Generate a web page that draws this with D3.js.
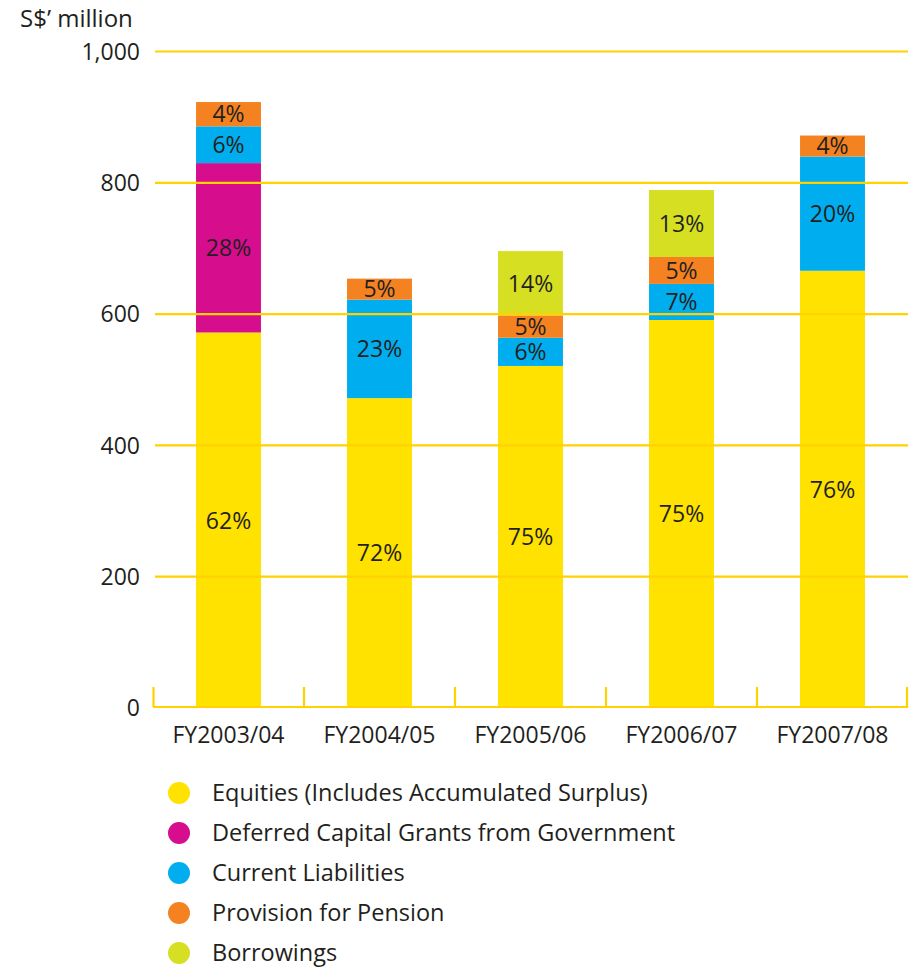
<!DOCTYPE html>
<html>
<head>
<meta charset="utf-8">
<script src="https://cdn.jsdelivr.net/npm/d3@7"></script>
<style>
  body { margin: 0; background: #fff; }
  text { font-family: "Open Sans", "Noto Sans", sans-serif; fill: #231f20; }
</style>
</head>
<body>
<div id="chart"></div>
<script>
// data (S$ million)
const categories = ["FY2003/04", "FY2004/05", "FY2005/06", "FY2006/07", "FY2007/08"];
const equities = [572, 472, 521, 591, 666];
const deferredGrants = [258, 0, 0, 0, 0];
const currentLiabilities = [56, 150, 43, 55, 174];
const pension = [37, 32, 34, 41, 32];
const borrowings = [0, 0, 98, 102, 0];
const yTicks = [0, 200, 400, 600, 800, 1000];

const seriesNames = ["Equities (Includes Accumulated Surplus)", "Deferred Capital Grants from Government",
                     "Current Liabilities", "Provision for Pension", "Borrowings"];
const colors = ["#ffe200", "#d60d8c", "#00aeef", "#f58220", "#d7df23"];

const width = 917, height = 970;
const gold = "#ffd200";

const svg = d3.select("#chart").append("svg")
    .attr("width", width)
    .attr("height", height);

const x = d3.scaleBand()
    .domain(categories)
    .range([153, 908])
    .paddingInner(0.57)
    .paddingOuter(0.285);

const y = d3.scaleLinear()
    .domain([0, 1000])
    .range([708, 51.5]);

const table = categories.map((c, i) => ({
    cat: c,
    s0: equities[i], s1: deferredGrants[i], s2: currentLiabilities[i], s3: pension[i], s4: borrowings[i]
}));
const keys = ["s0", "s1", "s2", "s3", "s4"];
const stacked = d3.stack().keys(keys)(table);
const totals = table.map(d => d3.sum(keys, k => d[k]));

// bars
const layers = svg.append("g").selectAll("g")
    .data(stacked)
    .join("g")
    .attr("fill", (d, i) => colors[i]);

layers.selectAll("rect")
    .data(d => d.filter(p => p[1] > p[0]))
    .join("rect")
    .attr("x", d => x(d.data.cat))
    .attr("y", d => y(d[1]))
    .attr("width", x.bandwidth())
    .attr("height", d => y(d[0]) - y(d[1]));

// gridlines sit on top of the bars
svg.append("g")
    .selectAll("line")
    .data(yTicks.filter(t => t > 0))
    .join("line")
    .attr("x1", 155).attr("x2", 908)
    .attr("y1", d => y(d)).attr("y2", d => y(d))
    .attr("stroke", gold)
    .attr("stroke-width", 2.2);

// base axis with upward ticks at category boundaries
const base = svg.append("g").attr("stroke", gold).attr("stroke-width", 2.2).attr("fill", "none");
base.append("line")
    .attr("x1", 153).attr("x2", 908)
    .attr("y1", y(0) - 1).attr("y2", y(0) - 1);
const bounds = [153.5].concat(categories.slice(1).map(c => x(c) - (x.step() - x.bandwidth()) / 2), [907]);
base.selectAll(".tk")
    .data(bounds)
    .join("line")
    .attr("x1", d => d).attr("x2", d => d)
    .attr("y1", y(0) - 1).attr("y2", y(0) - 21);

// value labels
layers.selectAll("text")
    .data(d => d.filter(p => p[1] > p[0]))
    .join("text")
    .attr("x", d => x(d.data.cat) + x.bandwidth() / 2)
    .attr("y", d => (y(d[0]) + y(d[1])) / 2)
    .attr("dy", "0.36em")
    .attr("text-anchor", "middle")
    .style("font-size", "23px")
    .text(d => Math.round((d[1] - d[0]) / totals[categories.indexOf(d.data.cat)] * 100) + "%");

// y tick labels
svg.append("g")
    .selectAll("text")
    .data(yTicks)
    .join("text")
    .attr("x", 140)
    .attr("y", d => y(d))
    .attr("dy", "0.36em")
    .attr("text-anchor", "end")
    .style("font-size", "23px")
    .text(d => d3.format(",")(d));

svg.append("text")
    .attr("x", 20)
    .attr("y", 27)
    .style("font-size", "24px")
    .text("S$\u2019 million");

// category labels
svg.append("g")
    .selectAll("text")
    .data(categories)
    .join("text")
    .attr("x", d => x(d) + x.bandwidth() / 2)
    .attr("y", 743)
    .attr("text-anchor", "middle")
    .style("font-size", "23px")
    .text(d => d);

// legend
const legend = svg.append("g")
    .selectAll("g")
    .data(seriesNames)
    .join("g")
    .attr("transform", (d, i) => `translate(179, ${793 + i * 40})`);

legend.append("circle")
    .attr("r", 11)
    .attr("fill", (d, i) => colors[i]);

legend.append("text")
    .attr("x", 33)
    .attr("dy", "0.36em")
    .style("font-size", "23.5px")
    .text(d => d);
</script>
</body>
</html>
